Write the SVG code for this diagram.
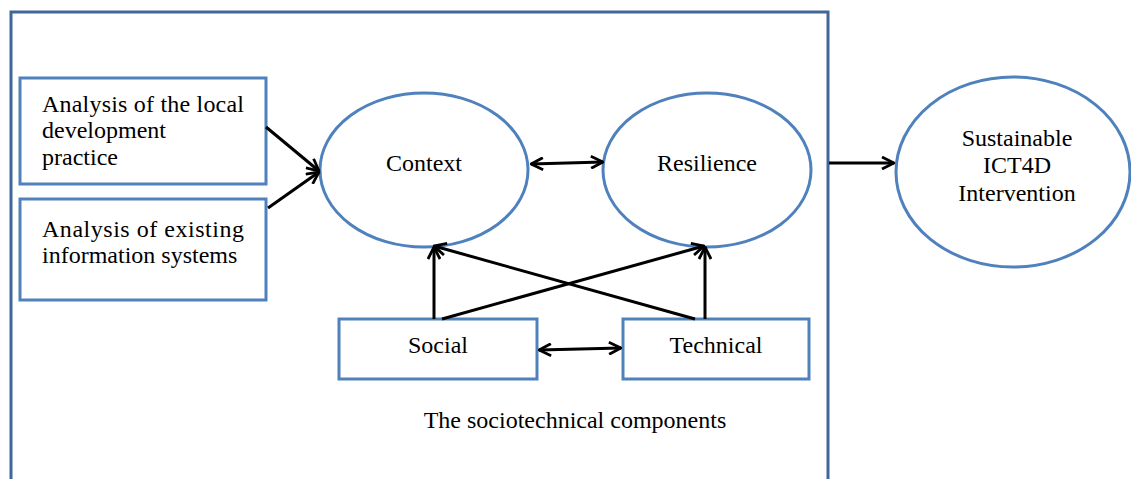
<svg xmlns="http://www.w3.org/2000/svg" width="1131" height="479" viewBox="0 0 1131 479">
<style>
.frame{fill:none;stroke:#41669A;stroke-width:3}
.box{fill:#fff;stroke:#4F81BD;stroke-width:3}
.ell{fill:#fff;stroke:#4F81BD;stroke-width:3}
.t{font-family:"Liberation Serif","Times New Roman",serif;font-size:24px;fill:#000}
.c{text-anchor:middle}
.conn line{stroke:#000;stroke-width:3}
</style>
<defs>
<marker id="ah" viewBox="0 0 14 14" refX="13" refY="7" markerWidth="14" markerHeight="14" markerUnits="userSpaceOnUse" orient="auto-start-reverse">
<path d="M1,1 L13,7 L1,13" fill="none" stroke="#000" stroke-width="2.8"/>
</marker>
</defs>
<rect class="frame" x="11" y="12" width="817" height="480"/>
<g id="n-local">
<rect class="box" x="20" y="78" width="246" height="106"/>
<text class="t" x="42" y="112" textLength="202" lengthAdjust="spacing">Analysis of the local</text>
<text class="t" x="42" y="138">development</text>
<text class="t" x="42" y="165">practice</text>
</g>
<g id="n-existing">
<rect class="box" x="20" y="199" width="246" height="101"/>
<text class="t" x="42" y="237" textLength="202" lengthAdjust="spacing">Analysis of existing</text>
<text class="t" x="42" y="263">information systems</text>
</g>
<g id="n-context">
<ellipse class="ell" cx="424" cy="170" rx="104" ry="77"/>
<text class="t c" x="424" y="171">Context</text>
</g>
<g id="n-resilience">
<ellipse class="ell" cx="707" cy="170" rx="104" ry="77"/>
<text class="t c" x="707" y="171">Resilience</text>
</g>
<g id="n-sustainable">
<ellipse class="ell" cx="1013" cy="172" rx="117" ry="95"/>
<text class="t c" x="1017" y="146">Sustainable</text>
<text class="t c" x="1017" y="173">ICT4D</text>
<text class="t c" x="1017" y="201">Intervention</text>
</g>
<g id="n-social">
<rect class="box" x="339" y="319" width="198" height="60"/>
<text class="t c" x="438" y="353">Social</text>
</g>
<g id="n-technical">
<rect class="box" x="623" y="319" width="186" height="60"/>
<text class="t c" x="716" y="353">Technical</text>
</g>
<g id="connectors" class="conn">
<line x1="266" y1="127" x2="319" y2="171" marker-end="url(#ah)"/>
<line x1="268" y1="208" x2="319" y2="172" marker-end="url(#ah)"/>
<line x1="531" y1="164" x2="603" y2="162" marker-start="url(#ah)" marker-end="url(#ah)"/>
<line x1="829" y1="163" x2="894" y2="163" marker-end="url(#ah)"/>
<line x1="434" y1="319" x2="434" y2="247" marker-end="url(#ah)"/>
<line x1="705" y1="319" x2="705" y2="247" marker-end="url(#ah)"/>
<line x1="442" y1="319" x2="704" y2="246" marker-end="url(#ah)"/>
<line x1="695" y1="319" x2="434" y2="246" marker-end="url(#ah)"/>
<line x1="539" y1="350" x2="621" y2="348" marker-start="url(#ah)" marker-end="url(#ah)"/>
</g>
<text class="t c" x="575" y="428">The sociotechnical components</text>
</svg>
